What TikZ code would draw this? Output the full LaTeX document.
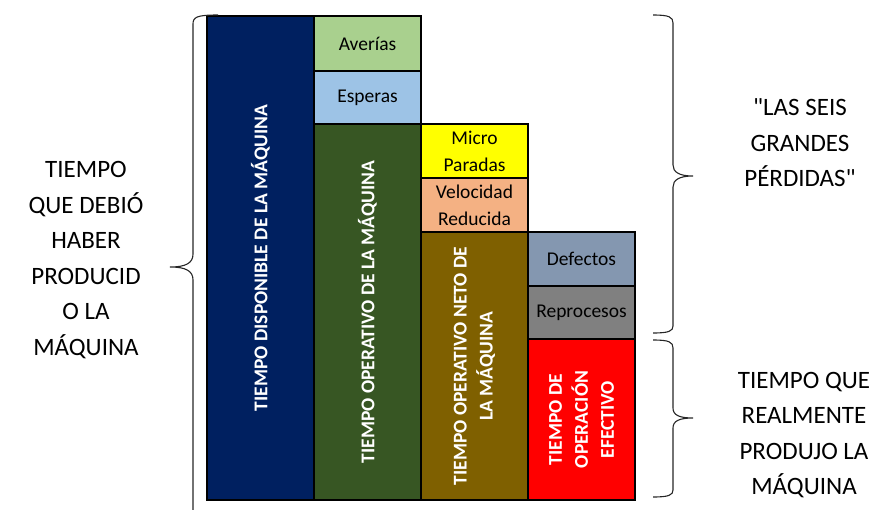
\documentclass[tikz,border=0pt]{standalone}
\usepackage{fontspec}
\setmainfont{Carlito}
\usetikzlibrary{positioning}
\definecolor{azul}{HTML}{002060}
\definecolor{verdeclaro}{HTML}{A9D08E}
\definecolor{celeste}{HTML}{9DC3E6}
\definecolor{verdeosc}{HTML}{375623}
\definecolor{amarillo}{HTML}{FFFF00}
\definecolor{salmon}{HTML}{F4B183}
\definecolor{cafe}{HTML}{7F6000}
\definecolor{grisazul}{HTML}{8497B0}
\definecolor{gris}{HTML}{808080}
\definecolor{rojo}{HTML}{FF0000}

\begin{document}
\begin{tikzpicture}[x=1pt,y=-1pt,
    caja/.style={draw=black,line width=2.2pt,inner sep=0pt,outer sep=0pt,minimum width=107pt,
      font=\fontsize{19.5}{27}\selectfont,align=center},
    vertical/.style={rotate=90,text=white,align=center,font=\fontsize{19.5}{26}\selectfont\bfseries},
    lateral/.style={align=center,font=\fontsize{25}{35.5}\selectfont},
    llave/.style={line width=1.1pt,black!85}]
  \useasboundingbox (0,0) rectangle (885,509);

  \node[caja,fill=azul,minimum height=484pt,anchor=north west] (disp) at (207,16) {};
  \node[caja,fill=verdeclaro,minimum height=55pt,anchor=north west] (averias) at (disp.north east) {Aver\'ias};
  \node[caja,fill=celeste,minimum height=53pt,below=0pt of averias] (esperas) {Esperas};
  \node[caja,fill=verdeosc,minimum height=376pt,below=0pt of esperas] (oper) {};
  \node[caja,fill=amarillo,minimum height=54pt,anchor=north west] (micro) at (oper.north east) {Micro\\Paradas};
  \node[caja,fill=salmon,minimum height=54pt,below=0pt of micro] (veloc) {Velocidad\\Reducida};
  \node[caja,fill=cafe,minimum height=268pt,below=0pt of veloc] (neto) {};
  \node[caja,fill=grisazul,minimum height=54pt,anchor=north west] (defectos) at (neto.north east) {Defectos};
  \node[caja,fill=gris,minimum height=53pt,below=0pt of defectos] (reproc) {Reprocesos};
  \node[caja,fill=rojo,minimum height=161pt,below=0pt of reproc] (efect) {};

  \node[vertical] (tdisp) at (disp.center) {TIEMPO DISPONIBLE DE LA MÁQUINA};
  \node[vertical] (toper) at (oper.center) {TIEMPO OPERATIVO DE LA MÁQUINA};
  \node[vertical] (tneto) at (neto.center) {TIEMPO OPERATIVO NETO DE\\LA MÁQUINA};
  \node[vertical] (tefect) at (efect.center) {TIEMPO DE\\OPERACIÓN\\EFECTIVO};

  \draw[llave] (218,15) .. controls (197,15) and (193,17) .. (193,24) -- (193,254)
    .. controls (193,263) and (186,267) .. (170,267) .. controls (186,267) and (193,271) .. (193,280)
    -- (193,510) .. controls (193,517) and (197,519) .. (218,519);
  \draw[llave] (653,15) .. controls (669,15) and (673,17) .. (673,23) -- (673,165)
    .. controls (673,172) and (679,176) .. (693,176) .. controls (679,176) and (673,180) .. (673,187)
    -- (673,326) .. controls (673,331) and (669,333) .. (653,333);
  \draw[llave] (653,340) .. controls (669,340) and (673,342) .. (673,348) -- (673,408)
    .. controls (673,415) and (679,418) .. (693,418) .. controls (679,418) and (673,421) .. (673,428)
    -- (673,490) .. controls (673,495) and (669,497) .. (653,497);

  \node[lateral] (debio) at (86,260) {TIEMPO\\QUE DEBIÓ\\HABER\\PRODUCID\\O LA\\MÁQUINA};
  \node[lateral] (perdidas) at (800,143) {\textquotedbl LAS SEIS\\GRANDES\\PÉRDIDAS\textquotedbl};
  \node[lateral] (produjo) at (804,435) {TIEMPO QUE\\REALMENTE\\PRODUJO LA\\MÁQUINA};
\end{tikzpicture}
\end{document}
